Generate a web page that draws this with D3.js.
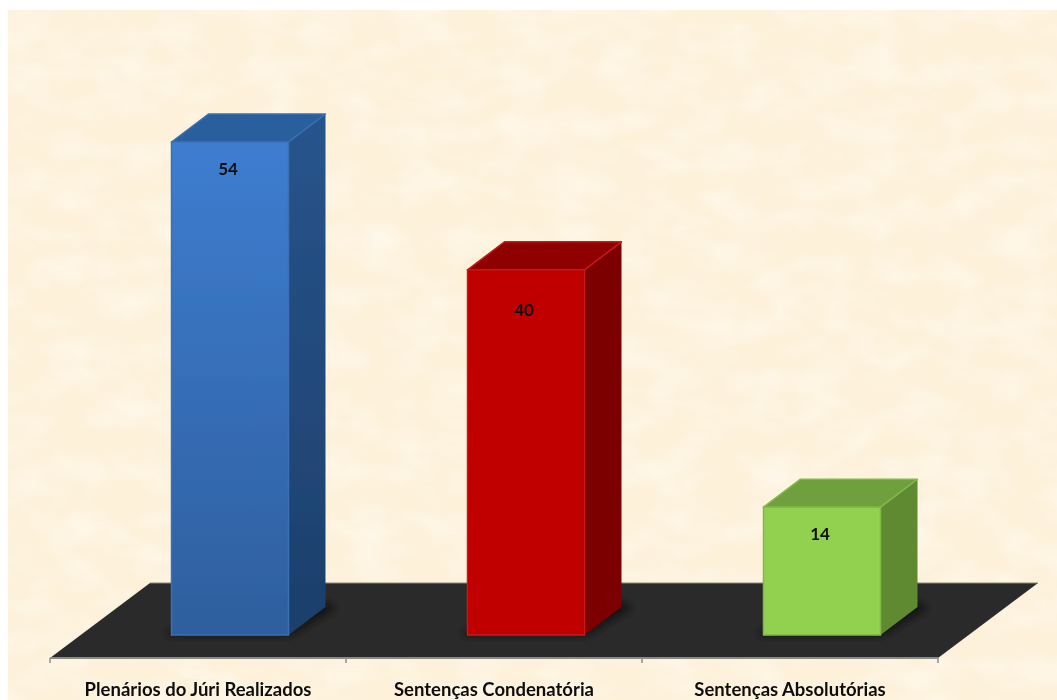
<!DOCTYPE html>
<html><head><meta charset="utf-8">
<script src="https://cdnjs.cloudflare.com/ajax/libs/d3/7.8.5/d3.min.js"></script>
<style>html,body{margin:0;padding:0;background:#fff;overflow:hidden}svg{display:block}</style>
</head><body><div id="chart"></div>
<script>
const categories = ["Plenários do Júri Realizados","Sentenças Condenatória","Sentenças Absolutórias"];
const values = [54,40,14];
const frontColors = ["url(#blueFront)","#c00000","#92d050"];
const topColors = ["#2c5f9e","#8f0000","#70a03c"];
const sideColors = ["url(#blueSide)","#7c0000","#5f8a32"];
const edgeColors = ["#3a70b8","#c41a1a","#82b84a"];
const labelDrops = [33,46,33];

const W=1057,H=700;
const svg=d3.select("#chart").append("svg").attr("width",W).attr("height",H);
const defs=svg.append("defs");
function grad(id,a,b){const g=defs.append("linearGradient").attr("id",id).attr("x1",0).attr("y1",0).attr("x2",0).attr("y2",1);
 g.append("stop").attr("offset",0).attr("stop-color",a);g.append("stop").attr("offset",1).attr("stop-color",b);}
grad("blueFront","#3e7dd0","#2e5f9e");
grad("blueSide","#27548c","#1d3f6b");
function paper(id,seed,matrix){
 const f=defs.append("filter").attr("id",id).attr("x",0).attr("y",0).attr("width","100%").attr("height","100%");
 f.append("feTurbulence").attr("type","fractalNoise").attr("baseFrequency","0.02 0.035").attr("numOctaves",3).attr("seed",seed).attr("result","n");
 f.append("feColorMatrix").attr("in","n").attr("type","matrix").attr("values",matrix);
}
paper("paperDark",7,"0 0 0 0 0.99  0 0 0 0 0.89  0 0 0 0 0.72  1.2 0 0 0 -0.42");
paper("paperLight",23,"0 0 0 0 1  0 0 0 0 0.97  0 0 0 0 0.9  1.2 0 0 0 -0.5");
defs.append("filter").attr("id","soft").attr("x","-30%").attr("y","-60%").attr("width","160%").attr("height","220%")
 .append("feGaussianBlur").attr("stdDeviation",4);
defs.append("filter").attr("id","lens").append("feGaussianBlur").attr("stdDeviation",0.7);

// paper background
const bg={x:8,y:10,width:W-8,height:H-10};
svg.append("rect").attr("x",bg.x).attr("y",bg.y).attr("width",bg.width).attr("height",bg.height).attr("fill","#fdf1da");
["paperDark","paperLight"].forEach(id=>svg.append("rect").attr("x",bg.x).attr("y",bg.y).attr("width",bg.width).attr("height",bg.height).attr("filter",`url(#${id})`));

const root=svg.append("g").attr("filter","url(#lens)");

// scales
const x=d3.scaleBand().domain(categories).range([50,938]);
const y=d3.scaleLinear().domain([0,54]).range([635,142]);
const barW=117, depthX=37, depthY=28, floorDX=100, floorFront=658, floorBack=583, barShift=32;

// floor
const [x0,x1]=x.range();
root.append("polygon").attr("fill","#2b2b2b")
 .attr("points",[[x0,floorFront],[x1,floorFront],[x1+floorDX,floorBack],[x0+floorDX,floorBack]].join(" "));
root.append("line").attr("x1",x0+floorDX).attr("x2",x1+floorDX).attr("y1",floorBack).attr("y2",floorBack).attr("stroke","#8a857a").attr("stroke-width",1);
// axis
const ticks=d3.range(categories.length+1).map(i=>x0+i*x.step());
root.append("line").attr("x1",x0).attr("x2",x1).attr("y1",floorFront).attr("y2",floorFront).attr("stroke","#8a8a86").attr("stroke-width",2);
root.selectAll("line.t").data(ticks).join("line").attr("class","t").attr("x1",d=>d).attr("x2",d=>d)
 .attr("y1",floorFront).attr("y2",floorFront+5).attr("stroke","#8f8f8a").attr("stroke-width",1.5);

const left=c=>x(c)+x.bandwidth()/2+barShift-barW/2;
// shadows
root.selectAll("polygon.sh").data(categories).join("polygon").attr("class","sh").attr("fill","#000").attr("opacity",.5)
 .attr("filter","url(#soft)")
 .attr("points",c=>{const l=left(c),b=y(0);return [[l-8,b+1],[l+barW+2,b+1],[l+barW+depthX+12,b-depthY+1],[l+barW+depthX,b-depthY-6],[l,b-6]].join(" ");});

const bars=root.selectAll("g.bar").data(categories).join("g").attr("class","bar");
// right side
bars.append("polygon").attr("fill",(c,i)=>sideColors[i])
 .attr("points",(c,i)=>{const r=left(c)+barW,t=y(values[i]),b=y(0);return [[r,t],[r+depthX,t-depthY],[r+depthX,b-depthY],[r,b]].join(" ");});
// top
bars.append("polygon").attr("fill",(c,i)=>topColors[i]).attr("stroke",(c,i)=>edgeColors[i]).attr("stroke-width",1.5).attr("stroke-linejoin","round")
 .attr("points",(c,i)=>{const l=left(c),t=y(values[i]);return [[l,t],[l+depthX,t-depthY],[l+barW+depthX,t-depthY],[l+barW,t]].join(" ");});
// front
bars.append("rect").attr("x",left).attr("y",(c,i)=>y(values[i])).attr("width",barW).attr("height",(c,i)=>y(0)-y(values[i]))
 .attr("fill",(c,i)=>frontColors[i]);
// front edge
bars.append("rect").attr("x",left).attr("y",(c,i)=>y(values[i])).attr("width",barW).attr("height",(c,i)=>y(0)-y(values[i]))
 .attr("fill","none").attr("stroke",(c,i)=>edgeColors[i]).attr("stroke-width",1.5);
// value labels
bars.append("text").attr("x",c=>left(c)+barW/2-2).attr("y",(c,i)=>y(values[i])+labelDrops[i])
 .attr("text-anchor","middle").attr("font-family","Lato, sans-serif").attr("font-weight",700).attr("font-size",17).attr("fill","#111")
 .text((c,i)=>values[i]);
// category labels
root.selectAll("text.cat").data(categories).join("text").attr("class","cat")
 .attr("x",c=>x(c)+x.bandwidth()/2).attr("y",695.5).attr("text-anchor","middle")
 .attr("font-family","Lato, sans-serif").attr("font-weight",700).attr("font-size",18.5).attr("fill","#111").text(c=>c);
</script></body></html>
